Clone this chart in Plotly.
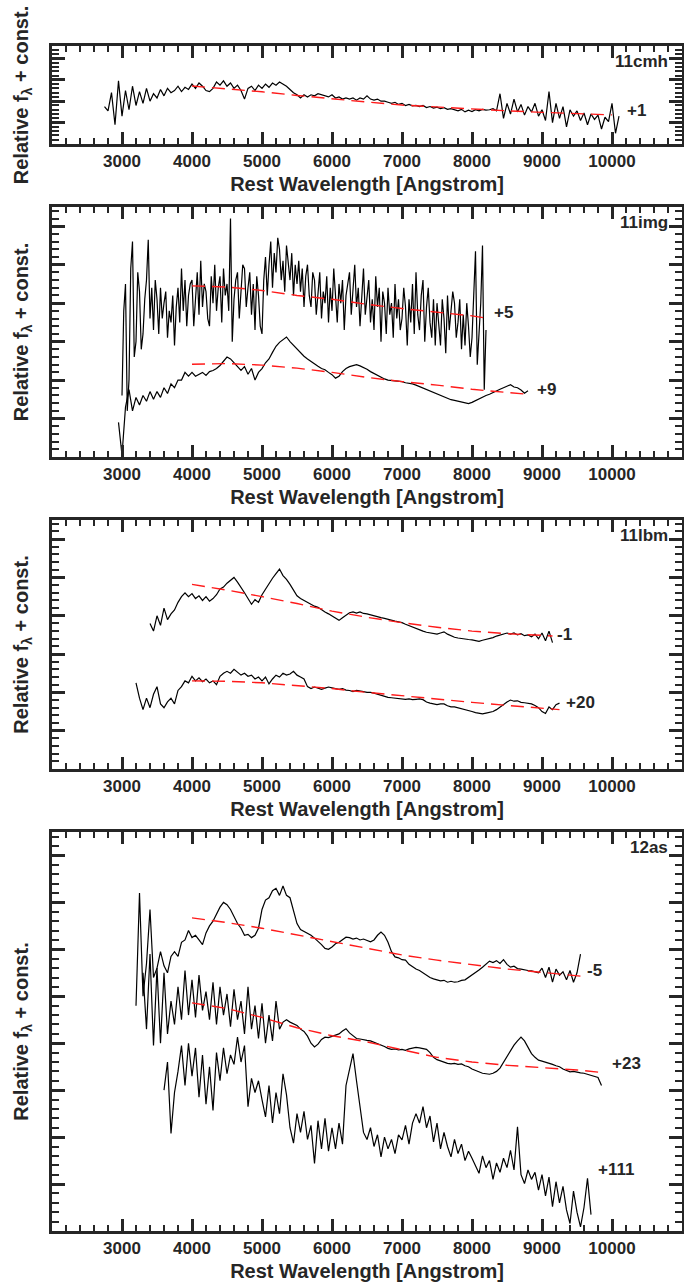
import numpy as np
import plotly.graph_objects as go

TICK_WL = [3000, 4000, 5000, 6000, 7000, 8000, 9000, 10000]

# ---------------- PTF11cmh ----------------
cmh_start, cmh_step = 2750, 50
cmh_flux = [
    1.75, 1.55, 2.4, 0.9, 2.95, 1.3, 2.5, 1.6, 2.7, 1.8,
    2.45, 1.9, 2.6, 2.0, 2.35, 2.15, 2.55, 2.25, 2.6, 2.4,
    2.5, 2.7, 2.45, 2.65, 2.55, 2.8, 2.6, 2.85, 2.7, 2.5,
    2.45, 2.6, 2.9, 2.75, 2.95, 2.7, 2.85, 2.6, 2.75, 2.5,
    2.1, 2.6, 2.7, 2.5, 2.75, 2.6, 2.8, 2.65, 2.85, 2.75,
    2.9, 2.8, 2.7, 2.55, 2.4, 2.3, 2.15, 2.3, 2.2, 2.3,
    2.25, 2.35, 2.3, 2.25, 2.2, 2.3, 2.15, 2.2, 2.1, 2.15,
    2.1, 2.15, 2.05, 2.15, 2.1, 2.25, 2.1, 2.05, 2.1, 2.0,
    2.0, 1.95, 1.9, 1.95, 1.85, 1.9, 1.8, 1.85, 1.78, 1.8,
    1.75, 1.8, 1.7, 1.75, 1.68, 1.72, 1.65, 1.7, 1.62, 1.65,
    1.6, 1.55, 1.62, 1.5, 1.58, 1.52, 1.6, 1.55, 1.62, 1.58,
    1.6, 1.65, 1.55, 2.35, 1.2, 1.9, 1.4, 2.1, 1.5, 1.85,
    1.35, 1.75, 1.5, 1.9, 1.3, 1.6, 1.1, 2.45, 1.0, 1.9,
    1.2, 1.75, 0.8, 1.6, 1.3, 1.55, 1.1, 1.45, 0.9, 1.4,
    1.15, 1.35, 0.7, 1.25, 1.05, 1.9, 0.5, 1.3,
]
cmh_fit_wl = [4000, 4500, 5000, 5500, 6000, 6500, 7000, 7500, 8000, 8500, 9000, 9500, 10000]
cmh_fit = [2.71, 2.58, 2.44, 2.27, 2.10, 1.96, 1.82, 1.72, 1.62, 1.55, 1.48, 1.42, 1.36]

# ---------------- PTF11img ----------------
img5_start, img5_step = 3000, 25
img5_flux = [
    1.6, 3.8, 4.5, 1.2, 2.0, 4.9, 5.6, 2.6, 3.0, 4.8,
    4.3, 2.8, 3.2, 4.1, 4.6, 5.65, 3.6, 4.4, 3.3, 4.6,
    4.1, 3.2, 4.4, 3.6, 4.0, 4.3, 3.1, 3.8, 3.5, 4.2,
    2.9, 3.9, 4.4, 3.5, 4.9, 3.8, 4.6, 3.4, 4.2, 4.5,
    4.6, 3.4, 4.1, 4.8, 3.7, 5.1, 3.9, 4.5, 4.3, 3.6,
    3.4, 4.7, 4.0, 5.0, 3.8, 4.4, 4.7, 3.5, 4.9, 4.2,
    4.5, 3.8, 6.2, 3.0, 4.1, 4.6, 4.8, 3.6, 4.3, 5.0,
    4.9, 3.9, 4.4, 4.8, 3.7, 4.5, 3.3, 4.7, 4.2, 3.4,
    3.2, 4.6, 5.2, 4.2, 5.0, 5.6, 4.4, 5.3, 4.8, 5.7,
    5.4, 4.6, 5.1, 4.3, 5.5, 5.0, 4.6, 5.3, 4.2, 5.0,
    4.5, 5.1, 4.3, 4.9, 3.9, 4.7, 5.0, 4.2, 3.9, 4.8,
    4.6, 3.7, 4.4, 4.8, 3.6, 4.3, 4.0, 4.7, 3.5, 4.4,
    3.8, 4.9, 4.2, 3.5, 4.5, 4.0, 4.6, 3.3, 4.2, 4.5,
    4.8, 3.7, 4.3, 5.0, 3.9, 4.4, 3.4, 4.1, 4.9, 3.7,
    4.2, 4.6, 3.5, 4.1, 3.3, 4.7, 3.9, 4.4, 3.0, 4.3,
    4.0, 3.2, 4.4, 3.7, 4.0, 3.1, 4.5, 3.6, 4.1, 3.3,
    3.6, 4.4, 3.9, 2.9, 4.1, 3.5, 4.5, 3.2, 4.8, 3.7,
    3.3, 4.2, 4.6, 3.0, 3.9, 4.4, 3.5, 3.1, 4.1, 2.9,
    4.0, 3.4, 2.9, 4.1, 3.6, 2.7, 4.2, 3.3, 3.8, 4.3,
    4.0, 3.1, 3.5, 4.1, 2.8, 3.7, 2.9, 4.0, 3.4, 2.6,
    3.1, 4.3, 5.35, 2.4, 3.4, 4.0, 5.5, 1.75, 3.3,
]
img5_fit_wl = [4000, 4500, 5000, 5500, 6000, 6500, 7000, 7500, 8000, 8200]
img5_fit = [4.45, 4.42, 4.33, 4.20, 4.10, 3.97, 3.86, 3.77, 3.67, 3.61]

img9_start, img9_step = 2950, 50
img9_flux = [
    0.9, 0.05, 1.3, 1.75, 1.2, 1.55, 1.35, 1.6, 1.45, 1.7,
    1.5, 1.7, 1.55, 1.8, 1.65, 1.9, 1.8, 2.0, 2.0, 2.2,
    2.1, 2.2, 2.1, 2.15, 2.2, 2.12, 2.22, 2.25, 2.3, 2.38,
    2.48, 2.6, 2.55, 2.45, 2.35, 2.25, 2.35, 2.15, 2.3, 2.0,
    2.2, 2.3, 2.45, 2.55, 2.72, 2.88, 2.98, 3.05, 3.12, 3.0,
    2.9, 2.8, 2.7, 2.62, 2.55, 2.48, 2.42, 2.36, 2.3, 2.27,
    2.2, 2.14, 2.05, 2.1, 2.22, 2.3, 2.35, 2.38, 2.4, 2.37,
    2.33, 2.28, 2.22, 2.17, 2.12, 2.08, 2.03, 2.0, 1.99, 1.98,
    1.97, 1.96, 1.93, 1.92, 1.9, 1.87, 1.83, 1.79, 1.75, 1.71,
    1.67, 1.63, 1.59, 1.55, 1.52, 1.49, 1.47, 1.45, 1.43, 1.41,
    1.39, 1.42, 1.47, 1.52, 1.55, 1.6, 1.63, 1.68, 1.72, 1.76,
    1.8, 1.84, 1.88, 1.82, 1.8, 1.74, 1.66, 1.72,
]
img9_fit_wl = [4000, 4500, 5000, 5500, 6000, 6500, 7000, 7500, 8000, 8500, 8800]
img9_fit = [2.41, 2.43, 2.39, 2.31, 2.20, 2.07, 1.96, 1.87, 1.76, 1.68, 1.63]

# ---------------- PTF11lbm ----------------
lbm1_start, lbm1_step = 3400, 50
lbm1_flux = [
    3.8, 3.6, 4.0, 3.75, 4.2, 3.9, 4.05, 4.15, 4.35, 4.5,
    4.6, 4.5, 4.58, 4.45, 4.52, 4.4, 4.5, 4.38, 4.45, 4.55,
    4.7, 4.75, 4.85, 4.92, 5.0, 4.88, 4.75, 4.6, 4.45, 4.3,
    4.42, 4.35, 4.55, 4.7, 4.85, 4.98, 5.1, 5.22, 5.05, 4.95,
    4.82, 4.68, 4.52, 4.45, 4.4, 4.33, 4.3, 4.25, 4.22, 4.15,
    4.1, 4.05, 4.0, 3.95, 3.88, 3.95, 4.02, 4.08, 4.1, 4.07,
    4.1, 4.06, 4.05, 4.02, 4.0, 3.97, 3.95, 3.93, 3.9, 3.88,
    3.86, 3.84, 3.82, 3.78, 3.74, 3.7, 3.66, 3.62, 3.6, 3.57,
    3.55, 3.53, 3.52, 3.55, 3.58, 3.52, 3.47, 3.44, 3.42, 3.4,
    3.39, 3.38, 3.37, 3.35, 3.33, 3.36, 3.38, 3.4, 3.43, 3.47,
    3.5, 3.53, 3.55, 3.52, 3.55, 3.5, 3.53, 3.48, 3.5, 3.45,
    3.52, 3.4, 3.55, 3.35, 3.6, 3.3,
]
lbm1_fit_wl = [4000, 4500, 5000, 5500, 6000, 6500, 7000, 7500, 8000, 8500, 9000, 9150]
lbm1_fit = [4.82, 4.67, 4.50, 4.32, 4.12, 3.96, 3.82, 3.70, 3.60, 3.53, 3.49, 3.47]

lbm20_start, lbm20_step = 3200, 50
lbm20_flux = [
    2.25, 1.85, 1.55, 1.85, 1.6, 1.95, 2.15, 1.7, 1.6, 1.75,
    1.85, 1.7, 2.05, 2.15, 2.3, 2.25, 2.42, 2.3, 2.38, 2.28,
    2.35, 2.25, 2.3, 2.2, 2.42, 2.5, 2.55, 2.5, 2.6, 2.52,
    2.45, 2.5, 2.42, 2.45, 2.35, 2.4, 2.3, 2.4, 2.22, 2.35,
    2.45, 2.4, 2.5, 2.45, 2.48, 2.55, 2.45, 2.4, 2.35, 2.15,
    2.1, 2.14, 2.12, 2.08, 2.11, 2.14, 2.12, 2.1, 2.08, 2.1,
    2.06, 2.05, 2.02, 2.05, 2.04, 2.02, 2.0, 2.0, 1.98, 1.95,
    1.93, 1.9, 1.87, 1.86, 1.85, 1.84, 1.83, 1.82, 1.83, 1.81,
    1.82, 1.83, 1.81, 1.75, 1.72, 1.7, 1.68, 1.7, 1.7, 1.65,
    1.62, 1.62, 1.6, 1.58, 1.56, 1.53, 1.5, 1.47, 1.45, 1.44,
    1.46, 1.48, 1.5, 1.55, 1.62, 1.7, 1.75, 1.8, 1.77, 1.78,
    1.74, 1.73, 1.71, 1.7, 1.66, 1.6, 1.5, 1.45, 1.62, 1.55,
    1.68, 1.72,
]
lbm20_fit_wl = [4000, 4500, 5000, 5500, 6000, 6500, 7000, 7500, 8000, 8500, 9000, 9250]
lbm20_fit = [2.30, 2.29, 2.25, 2.18, 2.10, 2.00, 1.91, 1.82, 1.74, 1.66, 1.59, 1.55]

# ---------------- PTF12as ----------------
as5_start, as5_step = 3200, 50
as5_flux = [
    4.8, 7.2, 5.0, 5.7, 6.85, 5.4, 5.6, 5.95, 5.65, 5.5,
    5.85, 5.95, 5.85, 6.15, 6.2, 6.4, 6.25, 6.3, 6.2, 6.1,
    6.35, 6.5, 6.6, 6.75, 6.9, 7.0, 6.95, 6.85, 6.7, 6.55,
    6.45, 6.3, 6.32, 6.25, 6.3, 6.45, 6.85, 7.05, 7.1, 7.25,
    7.3, 7.15, 7.35, 7.15, 7.1, 6.8, 6.55, 6.42, 6.38, 6.33,
    6.3, 6.24, 6.18, 6.1, 6.02, 6.0, 6.05, 6.12, 6.15, 6.2,
    6.26, 6.25, 6.22, 6.24, 6.2, 6.22, 6.19, 6.16, 6.2, 6.3,
    6.37, 6.3, 6.15, 5.95, 5.84, 5.82, 5.78, 5.77, 5.68, 5.62,
    5.58, 5.55, 5.5, 5.44, 5.4, 5.37, 5.35, 5.33, 5.34, 5.3,
    5.32, 5.3, 5.31, 5.34, 5.35, 5.4, 5.45, 5.5, 5.56, 5.62,
    5.68, 5.75, 5.72, 5.76, 5.7, 5.78, 5.68, 5.62, 5.64, 5.59,
    5.58, 5.56, 5.55, 5.54, 5.52, 5.5, 5.6, 5.4, 5.62, 5.3,
    5.58, 5.45, 5.52, 5.35, 5.55, 5.3, 5.5, 5.9,
]
as5_fit_wl = [4000, 4500, 5000, 5500, 6000, 6500, 7000, 7500, 8000, 8500, 9000, 9550]
as5_fit = [6.67, 6.57, 6.45, 6.31, 6.16, 6.03, 5.88, 5.77, 5.67, 5.58, 5.51, 5.43]

as23_start, as23_step = 3300, 50
as23_flux = [
    5.5, 4.3, 5.9, 3.95, 5.6, 4.0, 5.5, 4.2, 4.9, 4.4,
    5.2, 4.5, 5.55, 4.6, 5.35, 4.55, 5.45, 4.7, 5.1, 4.5,
    5.3, 4.4, 5.2, 4.6, 5.05, 4.35, 5.15, 4.5, 4.9, 4.2,
    5.2, 4.3, 4.8, 4.1, 4.85, 4.0, 4.6, 4.05, 4.9, 4.3,
    4.45, 4.5, 4.45, 4.42, 4.38, 4.3, 4.25, 4.15, 4.0, 3.92,
    3.98, 4.08, 4.13, 4.12, 4.15, 4.17, 4.2, 4.26, 4.31, 4.22,
    4.15, 4.1, 4.09, 4.07, 4.06, 4.05, 4.02, 3.99, 3.97, 3.93,
    3.89, 3.87, 3.88, 3.86, 3.87, 3.85, 3.88, 3.9, 3.91, 3.9,
    3.89, 3.87, 3.8, 3.7, 3.65, 3.62, 3.6, 3.57, 3.56, 3.57,
    3.55, 3.56, 3.52, 3.5, 3.45, 3.42, 3.39, 3.36, 3.35, 3.34,
    3.36, 3.4, 3.47, 3.6, 3.72, 3.85, 3.96, 4.05, 4.13, 4.05,
    3.9, 3.78, 3.7, 3.64, 3.62, 3.6, 3.58, 3.55, 3.52, 3.5,
    3.45, 3.42, 3.39, 3.4, 3.38, 3.37, 3.36, 3.34, 3.32, 3.3,
    3.27, 3.1,
]
as23_fit_wl = [4000, 4500, 5000, 5500, 6000, 6500, 7000, 7500, 8000, 8500, 9000, 9500, 9900]
as23_fit = [4.86, 4.74, 4.55, 4.33, 4.16, 4.03, 3.86, 3.70, 3.60, 3.53, 3.48, 3.43, 3.37]

as111_start, as111_step = 3600, 50
as111_flux = [
    3.0, 3.6, 2.08, 2.95, 3.4, 3.95, 3.1, 4.0, 3.3, 3.9,
    2.85, 3.75, 2.7, 3.5, 2.57, 3.8, 3.2, 3.9, 3.35, 3.75,
    3.55, 4.13, 3.6, 3.95, 2.65, 3.25, 2.95, 3.2, 2.8, 2.43,
    3.1, 2.3, 2.95, 2.5, 3.35, 2.9, 2.2, 1.87, 2.5, 2.1,
    2.55, 1.95, 2.25, 1.44, 2.35, 1.75, 2.4, 1.7, 2.2, 1.75,
    2.3, 1.85, 3.1, 3.45, 3.78, 3.2, 2.6, 2.1, 1.95, 2.2,
    1.8, 2.05, 1.58, 2.0, 1.75, 1.95, 1.65, 2.05, 1.94, 2.25,
    1.85, 2.3, 2.5, 2.3, 2.65, 2.2, 2.45, 1.9, 2.3, 1.75,
    2.1, 1.8, 1.58, 1.95, 1.65, 1.85, 1.5, 1.7, 1.55, 1.4,
    1.23, 1.6, 1.35, 1.5, 1.1, 1.45, 1.25, 1.55, 1.35, 1.72,
    1.3, 2.22, 1.2, 1.01, 1.3, 1.1, 1.25, 0.87, 1.2, 0.75,
    1.15, 0.52, 1.05, 0.6, 0.95, 0.45, 0.16, 0.85, 0.4, 0.09,
    0.5, 1.12, 0.35,
]


def wave(start, step, flux):
    # wavelength of each digitised sample
    return start + step * np.arange(len(flux))


FONT = 'Liberation Sans'
INK = '#262626'
H = 1288

panels = [
    dict(name='11cmh', top=46, bottom=144, ymax=4.58,
         spectra=[(cmh_start, cmh_step, cmh_flux)],
         fits=[(cmh_fit_wl, cmh_fit)],
         labels=[(10350, 1.56, '+1')]),
    dict(name='11img', top=207, bottom=457, ymax=6.5,
         spectra=[(img5_start, img5_step, img5_flux), (img9_start, img9_step, img9_flux)],
         fits=[(img5_fit_wl, img5_fit), (img9_fit_wl, img9_fit)],
         labels=[(8450, 3.76, '+5'), (9060, 1.76, '+9')]),
    dict(name='11lbm', top=520, bottom=769, ymax=6.5,
         spectra=[(lbm1_start, lbm1_step, lbm1_flux), (lbm20_start, lbm20_step, lbm20_flux)],
         fits=[(lbm1_fit_wl, lbm1_fit), (lbm20_fit_wl, lbm20_fit)],
         labels=[(9320, 3.51, '-1'), (9550, 1.74, '+20')]),
    dict(name='12as', top=832, bottom=1231, ymax=8.5,
         spectra=[(as5_start, as5_step, as5_flux), (as23_start, as23_step, as23_flux),
                  (as111_start, as111_step, as111_flux)],
         fits=[(as5_fit_wl, as5_fit), (as23_fit_wl, as23_fit)],
         labels=[(9755, 5.54, '-5'), (10200, 3.56, '+23'), (10060, 1.32, '+111')]),
]

fig = go.Figure()
layout = dict(width=684, height=H, margin=dict(l=52, r=2, t=0, b=0),
              plot_bgcolor='white', paper_bgcolor='white', showlegend=False)

for i, p in enumerate(panels, start=1):
    sfx = '' if i == 1 else str(i)
    xa, ya = 'x' + sfx, 'y' + sfx

    for start, step, flux in p['spectra']:
        fig.add_trace(go.Scatter(x=wave(start, step, flux), y=flux, mode='lines',
                                 line=dict(color='black', width=1.2),
                                 xaxis=xa, yaxis=ya, hoverinfo='skip'))
    for fwl, ffl in p['fits']:
        fig.add_trace(go.Scatter(x=fwl, y=ffl, mode='lines',
                                 line=dict(color='#ff1a1a', width=1.4, dash='13px,7px'),
                                 xaxis=xa, yaxis=ya, hoverinfo='skip'))

    for lx, ly, txt in p['labels']:
        fig.add_annotation(x=lx, y=ly, xref=xa, yref=ya, text=txt, showarrow=False,
                           font=dict(family=FONT, size=17, color=INK, weight='bold'))
    fig.add_annotation(x=1, y=1, xref=xa + ' domain', yref=ya + ' domain',
                       xanchor='right', yanchor='top', xshift=-12, yshift=-4,
                       text=p['name'], showarrow=False,
                       font=dict(family=FONT, size=17, color=INK, weight='bold'))

    layout['xaxis' + sfx] = dict(
        domain=[0, 1], anchor=ya, range=[2000, 11000],
        tickmode='array', tickvals=TICK_WL, ticktext=[str(v) for v in TICK_WL],
        ticks='inside', ticklen=12, tickwidth=2.5, tickcolor=INK,
        showline=True, linewidth=3, linecolor=INK, mirror='ticks',
        showgrid=False, zeroline=False,
        minor=dict(tick0=2000, dtick=200, ticks='inside', ticklen=6,
                   tickwidth=2, tickcolor=INK, showgrid=False),
        tickfont=dict(family=FONT, size=17, color=INK, weight='bold'),
        title=dict(text='Rest Wavelength [Angstrom]', standoff=7,
                   font=dict(family=FONT, size=20, color=INK, weight='bold')),
    )
    layout['yaxis' + sfx] = dict(
        domain=[1 - p['bottom'] / H, 1 - p['top'] / H], anchor=xa,
        range=[0, p['ymax']], tickmode='linear', tick0=0, dtick=1,
        showticklabels=False,
        ticks='inside', ticklen=13, tickwidth=2.5, tickcolor=INK,
        showline=True, linewidth=3, linecolor=INK, mirror='ticks',
        showgrid=False, zeroline=False,
        minor=dict(tick0=0, dtick=0.2, ticks='inside', ticklen=7,
                   tickwidth=2, tickcolor=INK, showgrid=False),
        title=dict(text='Relative f<sub>λ</sub> + const.', standoff=16,
                   font=dict(family=FONT, size=20, color=INK, weight='bold')),
    )

fig.update_layout(**layout)

fig.write_html("out.html", config={'displayModeBar': False},
               post_script="document.body.style.margin='0';")
